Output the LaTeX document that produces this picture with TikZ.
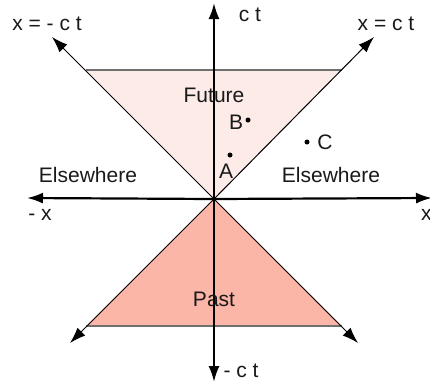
\documentclass[tikz,border=0pt]{standalone}
\usepackage{fontspec}
\setmainfont{Liberation Sans}
\usetikzlibrary{arrows.meta}
\definecolor{futurefill}{HTML}{FCEBE7}
\definecolor{pastfill}{HTML}{FBB6A8}
\definecolor{edgegray}{HTML}{707070}
\begin{document}
\begin{tikzpicture}[x=1pt,y=-1pt,
  axis/.style={line width=2.2pt,-{Latex[length=16pt,width=11pt]}},
  cone/.style={line width=1pt,-{Latex[length=16pt,width=11pt]}},
  lbl/.style={font=\fontsize{21}{25}\selectfont, inner sep=0pt, text=black!90},
  dot/.style={circle,fill=black,inner sep=0pt,minimum size=5pt}]
\useasboundingbox (0,0) rectangle (430,381);
\coordinate (O) at (214,199);
\coordinate (FL) at (86,70);
\coordinate (FR) at (342,70);
\coordinate (PL) at (86,326);
\coordinate (PR) at (342,326);
\coordinate (UL) at (52,37);
\coordinate (UR) at (374,37);
\coordinate (LL) at (70,343);
\coordinate (LR) at (358,343);
\coordinate (T) at (214,3);
\coordinate (B) at (214,382);
\coordinate (L) at (27,198);
\coordinate (R) at (432,198);
% regions
\fill[futurefill] (O) -- (FL) -- (FR) -- cycle;
\fill[pastfill] (O) -- (PL) -- (PR) -- cycle;
\draw[edgegray, line width=1.2pt] (FL) -- (FR);
\draw[edgegray, line width=1.2pt] (PL) -- (PR);
% light cone
\draw[cone] (O) -- (UL);
\draw[cone] (O) -- (UR);
\draw[cone] (O) -- (LL);
\draw[cone] (O) -- (LR);
% axes
\draw[axis] (O) -- (T);
\draw[axis] (O) -- (B);
\draw[axis] (O) -- (L);
\draw[axis] (O) -- (R);
% labels
\node[lbl] (ct) at (250,15) {c t};
\node[lbl] (mct) at (241,371) {- c t};
\node[lbl] (xmct) at (47,24) {x = - c t};
\node[lbl] (xct) at (386,24) {x = c t};
\node[lbl] (mx) at (40,215) {- x};
\node[lbl, anchor=west] (x) at (421,215) {x};
\node[lbl] (fut) at (214,95) {Future};
\node[lbl] (past) at (214,299) {Past};
\node[lbl] (elsL) at (88,175) {Elsewhere};
\node[lbl] (elsR) at (331,175) {Elsewhere};
\node[dot] (dB) at (248,120) {};
\node[lbl] (lB) at (236,122) {B};
\node[dot] (dC) at (307,142) {};
\node[lbl] (lC) at (325,142) {C};
\node[dot] (dA) at (230,155) {};
\node[lbl] (lA) at (226,171) {A};
\end{tikzpicture}
\end{document}
